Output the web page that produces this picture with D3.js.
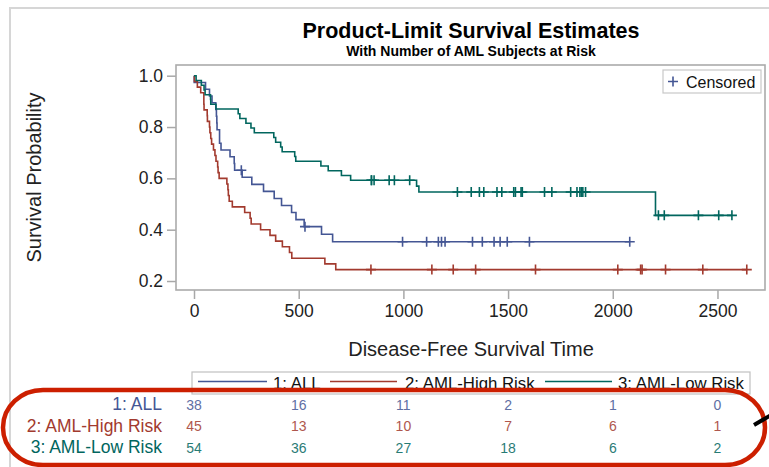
<!DOCTYPE html>
<html>
<head>
<meta charset="utf-8">
<script src="https://cdn.jsdelivr.net/npm/d3@7"></script>
<style>
body { margin: 0; background: #fff; }
svg text { font-family: Arial, "Liberation Sans", sans-serif; }
</style>
</head>
<body>
<div id="chart"></div>
<script>
/*
Kaplan-Meier curves, BMT data, 3 groups
 */

var groupNames = ["1: ALL", "2: AML-High Risk", "3: AML-Low Risk"];
var groupColors = ["#445694", "#a23a2e", "#01665e"];

// step points (time, survival after the step)
var allTimes = [0, 1, 55, 74, 86, 104, 107, 109, 110, 122, 129, 172, 192, 194, 230, 276, 332, 383, 418, 466, 487, 526, 609, 662];
var allSurv = [1, 0.9737, 0.9474, 0.9211, 0.8947, 0.8684, 0.8421, 0.8158, 0.7895, 0.7368, 0.7105, 0.6842, 0.6579, 0.6316, 0.6041, 0.5767, 0.5492, 0.5217, 0.4943, 0.4668, 0.4394, 0.4119, 0.3825, 0.3531];
var allCensored = [226, 530, 996, 1111, 1167, 1182, 1199, 1330, 1377, 1433, 1462, 1496, 1602, 2081];

var highTimes = [0, 2, 16, 32, 47, 48, 63, 64, 74, 76, 80, 84, 93, 100, 105, 113, 115, 120, 157, 162, 164, 168, 183, 242, 268, 273, 318, 363, 390, 422, 456, 467, 625, 677];
var highSurv = [1, 0.9778, 0.9556, 0.9333, 0.8889, 0.8667, 0.8444, 0.8222, 0.8, 0.7778, 0.7556, 0.7333, 0.7111, 0.6889, 0.6667, 0.6444, 0.6222, 0.6, 0.5778, 0.5556, 0.5333, 0.5111, 0.4889, 0.4667, 0.4444, 0.4222, 0.4, 0.3778, 0.3556, 0.3333, 0.3111, 0.2889, 0.2667, 0.2444];
var highCensored = [845, 1136, 1238, 1345, 1631, 2024, 2133, 2140, 2252, 2430, 2640];

var lowTimes = [0, 10, 35, 48, 53, 79, 80, 105, 211, 219, 248, 272, 288, 381, 390, 414, 421, 481, 486, 606, 641, 704, 748, 1063, 1074, 2204];
var lowSurv = [1, 0.9815, 0.963, 0.9444, 0.9259, 0.9074, 0.8889, 0.8704, 0.8519, 0.8333, 0.8148, 0.7963, 0.7778, 0.7593, 0.7407, 0.7222, 0.7037, 0.6852, 0.6667, 0.6481, 0.6296, 0.6111, 0.5926, 0.5698, 0.547, 0.4558];
var lowCensored = [847, 848, 860, 932, 957, 1030, 1258, 1324, 1363, 1384, 1447, 1470, 1527, 1535, 1562, 1568, 1674, 1709, 1799, 1829, 1843, 1850, 1857, 1870, 2218, 2246, 2409, 2506, 2569];

var xTicks = [0, 500, 1000, 1500, 2000, 2500];
var yTicks = [0.2, 0.4, 0.6, 0.8, 1.0];

var atRiskAll = [38, 16, 11, 2, 1, 0];
var atRiskHigh = [45, 13, 10, 7, 6, 1];
var atRiskLow = [54, 36, 27, 18, 6, 2];

var groups = [
    { name: groupNames[0], color: groupColors[0], times: allTimes, surv: allSurv, cens: allCensored, risk: atRiskAll },
    { name: groupNames[1], color: groupColors[1], times: highTimes, surv: highSurv, cens: highCensored, risk: atRiskHigh },
    { name: groupNames[2], color: groupColors[2], times: lowTimes, surv: lowSurv, cens: lowCensored, risk: atRiskLow }
];

var W = 769, H = 467;
var plot = { left: 176, top: 65, right: 765, bottom: 290 };

var svg = d3.select("#chart")
    .append("svg")
    .attr("width", W)
    .attr("height", H);

// outer page frame (only top and left show)
svg.append("path")
    .attr("d", "M10," + H + "V8H" + W)
    .style("fill", "none")
    .style("stroke", "#d6d6d6")
    .style("stroke-width", 2);

var x = d3.scaleLinear().domain([-86, 2727]).range([plot.left, plot.right]);
var y = d3.scaleLinear().domain([0.165, 1.0417]).range([plot.bottom, plot.top]);

// titles
svg.append("text")
    .attr("x", 471).attr("y", 38)
    .attr("text-anchor", "middle")
    .style("font-size", "21.5px").style("font-weight", "bold")
    .text("Product-Limit Survival Estimates");

svg.append("text")
    .attr("x", 471).attr("y", 55.5)
    .attr("text-anchor", "middle")
    .style("font-size", "14px").style("font-weight", "bold")
    .text("With Number of AML Subjects at Risk");

// axes
var xAxis = svg.append("g")
    .attr("transform", "translate(0," + plot.bottom + ")")
    .call(d3.axisBottom(x).tickValues(xTicks).tickFormat(d3.format("d")).tickSize(9).tickPadding(6));

var yAxis = svg.append("g")
    .attr("transform", "translate(" + plot.left + ",0)")
    .call(d3.axisLeft(y).tickValues(yTicks).tickFormat(d3.format(".1f")).tickSize(9).tickPadding(4));

[xAxis, yAxis].forEach(function(a) {
    a.select(".domain").remove();
    a.selectAll(".tick line").style("stroke", "#a8a8a8").style("stroke-width", 1.5);
    a.selectAll(".tick text").style("font-size", "17.5px").style("fill", "#222")
        .style("font-family", "Arial, 'Liberation Sans', sans-serif");
});

svg.append("text")
    .attr("x", 471).attr("y", 356)
    .attr("text-anchor", "middle")
    .style("font-size", "20px").style("fill", "#222")
    .text("Disease-Free Survival Time");

svg.append("text")
    .attr("transform", "translate(41,177.5) rotate(-90)")
    .attr("text-anchor", "middle")
    .style("font-size", "20px").style("fill", "#222")
    .text("Survival Probability");

// frame
svg.append("rect")
    .attr("x", plot.left).attr("y", plot.top)
    .attr("width", plot.right - plot.left)
    .attr("height", plot.bottom - plot.top)
    .style("fill", "none")
    .style("stroke", "#ababab")
    .style("stroke-width", 1.6);

// curves
var line = d3.line()
    .x(function(d) { return x(d[0]); })
    .y(function(d) { return y(d[1]); })
    .curve(d3.curveStepAfter);

function plusPath(size) {
    return "M" + (-size) + ",0H" + size + "M0," + (-size) + "V" + size;
}

groups.forEach(function(g) {
    var pts = g.times.map(function(t, i) { return [t, g.surv[i]]; });
    var endT = Math.max(d3.max(g.times), d3.max(g.cens));
    pts.push([endT, g.surv[g.surv.length - 1]]);

    svg.append("path")
        .datum(pts)
        .attr("d", line)
        .style("fill", "none")
        .style("stroke", g.color)
        .style("stroke-width", 1.6);

    svg.append("g").selectAll("path")
        .data(g.cens)
        .enter()
        .append("path")
        .attr("transform", function(t) {
            var i = d3.bisectRight(g.times, t) - 1;
            return "translate(" + x(t) + "," + y(g.surv[i]) + ")";
        })
        .attr("d", plusPath(5))
        .style("fill", "none")
        .style("stroke", g.color)
        .style("stroke-width", 1.6);
});

// censored legend
svg.append("rect")
    .attr("x", 663).attr("y", 70).attr("width", 98).attr("height", 23)
    .style("fill", "#fff").style("stroke", "#c8c8c8").style("stroke-width", 1.2);
svg.append("path")
    .attr("transform", "translate(673,81.5)")
    .attr("d", plusPath(5))
    .style("stroke", groupColors[0]).style("stroke-width", 1.6);
svg.append("text")
    .attr("x", 686).attr("y", 87.5)
    .style("font-size", "16px").style("fill", "#111")
    .text("Censored");

// group legend
svg.append("rect")
    .attr("x", 192).attr("y", 372).attr("width", 558).attr("height", 22)
    .style("fill", "#fff").style("stroke", "#c0c0c0").style("stroke-width", 1.2);

var legendX = [[198, 267, 273], [330, 397, 405], [545, 612, 618]];
groups.forEach(function(g, i) {
    svg.append("line")
        .attr("x1", legendX[i][0]).attr("x2", legendX[i][1])
        .attr("y1", 381.5).attr("y2", 381.5)
        .style("stroke", g.color).style("stroke-width", 1.6);
    svg.append("text")
        .attr("x", legendX[i][2]).attr("y", 389)
        .style("font-size", "16.8px").style("fill", "#111")
        .text(g.name);
});

// at-risk table
var rowY = [410, 431.5, 453];
groups.forEach(function(g, i) {
    svg.append("text")
        .attr("x", 162).attr("y", rowY[i])
        .attr("text-anchor", "end")
        .style("font-size", "17.5px").style("fill", g.color)
        .text(g.name);

    svg.append("g").selectAll("text")
        .data(g.risk)
        .enter()
        .append("text")
        .attr("x", function(d, j) { return x(xTicks[j]); })
        .attr("y", rowY[i] - 0.5)
        .attr("text-anchor", "middle")
        .style("font-size", "14px").style("fill", g.color)
        .style("opacity", 0.85)
        .text(function(d) { return d; });
});

// red highlight oval + arrow stub
svg.append("rect")
    .attr("x", 3).attr("y", 390).attr("width", 762).attr("height", 75)
    .attr("rx", 40).attr("ry", 37.5)
    .style("fill", "none")
    .style("stroke", "#cc1f00")
    .style("stroke-width", 4.5);

svg.append("line")
    .attr("x1", 754).attr("y1", 425).attr("x2", 790).attr("y2", 404)
    .style("stroke", "#000")
    .style("stroke-width", 4);
</script>
</body>
</html>
